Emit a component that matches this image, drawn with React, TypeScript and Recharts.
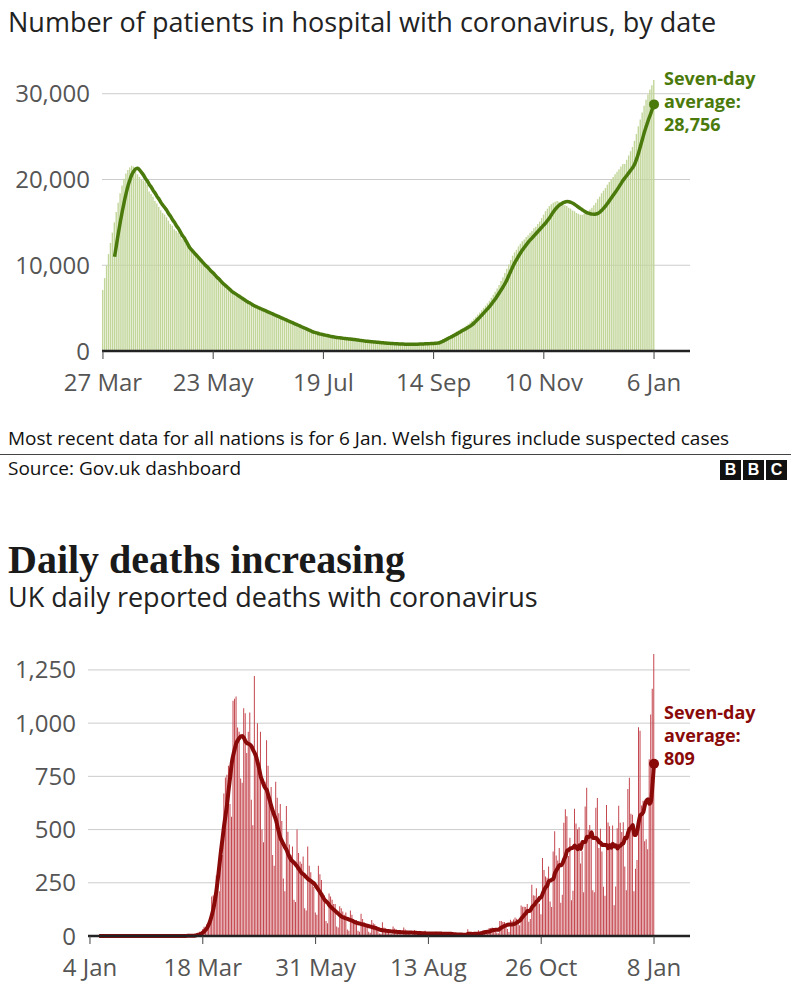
import React from 'react';
import {
  Bar,
  CartesianGrid,
  ComposedChart,
  Line,
  XAxis,
  YAxis,
} from 'recharts';

// Hospital patients, thousands, one value per day from 27 Mar 2020 to 6 Jan 2021
const hospitalBarsK = [
  7.1, 8.5, 10.0, 11.3, 12.6, 13.8, 15.0, 16.2, 17.3, 18.4,
  19.3, 20.1, 20.7, 21.1, 21.4, 21.6, 21.5, 21.1, 20.6, 20.3,
  20.0, 19.9, 19.7, 19.4, 18.6, 18.3, 18.0, 17.5, 17.2, 16.8,
  16.4, 16.1, 15.9, 15.6, 15.2, 14.8, 14.6, 14.2, 14.0, 13.8,
  13.5, 13.1, 12.9, 12.5, 12.3, 11.9, 11.6, 11.4, 11.2, 10.9,
  10.7, 10.4, 10.2, 9.9, 9.7, 9.4, 9.2, 8.9, 8.6, 8.4,
  8.2, 7.9, 7.7, 7.5, 7.3, 7.1, 6.9, 6.8, 6.6, 6.4,
  6.3, 6.1, 6.0, 5.8, 5.7, 5.5, 5.4, 5.3, 5.2, 5.1,
  5.0, 4.9, 4.8, 4.7, 4.6, 4.5, 4.4, 4.3, 4.2, 4.1,
  4.0, 3.9, 3.8, 3.7, 3.6, 3.5, 3.4, 3.3, 3.2, 3.1,
  3.0, 2.9, 2.8, 2.7, 2.6, 2.5, 2.4, 2.3, 2.2, 2.1,
  2.05, 2.0, 1.95, 1.9, 1.85, 1.8, 1.75, 1.7, 1.66, 1.62,
  1.58, 1.55, 1.52, 1.49, 1.46, 1.43, 1.4, 1.38, 1.35, 1.32,
  1.29, 1.26, 1.23, 1.2, 1.17, 1.14, 1.12, 1.09, 1.07, 1.05,
  1.03, 1.01, 0.99, 0.96, 0.94, 0.92, 0.9, 0.89, 0.87, 0.86,
  0.85, 0.83, 0.82, 0.81, 0.8, 0.79, 0.79, 0.78, 0.78, 0.79,
  0.79, 0.8, 0.8, 0.81, 0.82, 0.83, 0.84, 0.85, 0.86, 0.87,
  0.89, 0.92, 0.97, 1.05, 1.15, 1.27, 1.4, 1.52, 1.64, 1.76,
  1.88, 2.0, 2.13, 2.26, 2.39, 2.52, 2.65, 2.79, 2.94, 3.12,
  3.32, 3.54, 3.77, 4.0, 4.25, 4.5, 4.76, 5.02, 5.28, 5.56,
  5.86, 6.2, 6.55, 6.9, 7.3, 7.7, 8.15, 8.6, 9.1, 9.6,
  10.1, 10.6, 11.1, 11.5, 11.8, 12.2, 12.5, 12.8, 13.0, 13.3,
  13.5, 13.8, 14.0, 14.3, 14.5, 14.8, 15.1, 15.5, 15.9, 16.3,
  16.6, 16.9, 17.1, 17.3, 17.4, 17.5, 17.4, 17.3, 17.2, 17.0,
  16.9, 16.7, 16.6, 16.4, 16.3, 16.1, 16.0, 15.9, 15.9, 16.0,
  16.1, 16.3, 16.5, 16.7, 17.0, 17.3, 17.7, 18.0, 18.4, 18.7,
  19.0, 19.4, 19.7, 20.0, 20.3, 20.6, 20.9, 21.2, 21.5, 21.8,
  21.8, 22.3, 22.8, 23.3, 23.8, 24.5, 25.3, 26.2, 27.0, 27.8,
  28.6, 29.3, 29.9, 30.5, 31.0, 31.6,
];

// Seven-day average, thousands, same days
const hospitalAvgK = [
  null, null, null, null, null, null, 11.0, 12.4, 13.8, 15.1,
  16.3, 17.4, 18.4, 19.3, 20.0, 20.6, 21.0, 21.25, 21.3, 21.1,
  20.8, 20.5, 20.1, 19.8, 19.4, 19.1, 18.7, 18.4, 18.0, 17.7,
  17.3, 17.0, 16.7, 16.4, 16.0, 15.7, 15.3, 15.0, 14.6, 14.3,
  13.9, 13.5, 13.2, 12.8, 12.4, 12.0, 11.75, 11.5, 11.25, 11.0,
  10.75, 10.5, 10.25, 10.0, 9.8, 9.55, 9.3, 9.1, 8.85, 8.6,
  8.4, 8.15, 7.9, 7.7, 7.5, 7.3, 7.1, 6.9, 6.75, 6.6,
  6.45, 6.3, 6.15, 6.0, 5.85, 5.7, 5.6, 5.45, 5.3, 5.2,
  5.1, 5.0, 4.9, 4.8, 4.7, 4.6, 4.5, 4.4, 4.3, 4.2,
  4.1, 4.0, 3.9, 3.8, 3.7, 3.6, 3.5, 3.4, 3.3, 3.2,
  3.1, 3.0, 2.9, 2.8, 2.7, 2.6, 2.5, 2.4, 2.3, 2.2,
  2.15, 2.07, 2.0, 1.95, 1.9, 1.85, 1.8, 1.75, 1.7, 1.66,
  1.62, 1.58, 1.55, 1.52, 1.49, 1.46, 1.43, 1.41, 1.39, 1.36,
  1.33, 1.3, 1.27, 1.24, 1.21, 1.18, 1.15, 1.13, 1.1, 1.08,
  1.06, 1.04, 1.02, 1.0, 0.97, 0.95, 0.93, 0.91, 0.9, 0.88,
  0.87, 0.85, 0.84, 0.83, 0.82, 0.81, 0.8, 0.8, 0.79, 0.79,
  0.79, 0.79, 0.8, 0.8, 0.81, 0.82, 0.83, 0.84, 0.85, 0.86,
  0.87, 0.88, 0.9, 0.92, 0.96, 1.05, 1.15, 1.28, 1.4, 1.52,
  1.63, 1.75, 1.87, 2.0, 2.12, 2.25, 2.38, 2.5, 2.63, 2.77,
  2.9, 3.08, 3.28, 3.5, 3.72, 3.95, 4.2, 4.45, 4.7, 4.95,
  5.2, 5.5, 5.8, 6.1, 6.45, 6.8, 7.15, 7.5, 7.9, 8.35,
  8.85, 9.35, 9.85, 10.3, 10.7, 11.1, 11.45, 11.8, 12.1, 12.4,
  12.7, 12.95, 13.2, 13.45, 13.7, 13.95, 14.2, 14.45, 14.7, 14.95,
  15.25, 15.55, 15.9, 16.25, 16.55, 16.8, 17.0, 17.15, 17.3, 17.38,
  17.42, 17.4, 17.33, 17.22, 17.08, 16.92, 16.76, 16.6, 16.45, 16.3,
  16.17, 16.07, 16.0, 15.96, 15.95, 15.97, 16.05, 16.2, 16.4, 16.65,
  16.93, 17.23, 17.55, 17.88, 18.2, 18.52, 18.85, 19.2, 19.55, 19.9,
  20.2, 20.5, 20.8, 21.1, 21.4, 21.8, 22.4, 23.1, 23.9, 24.7,
  25.5, 26.2, 26.9, 27.5, 28.15, 28.756,
];

const hospitalTickDays = [0, 57, 114, 171, 228, 285];
const hospitalTickLabels = ['27 Mar', '23 May', '19 Jul', '14 Sep', '10 Nov', '6 Jan'];
const hospitalYTicks = [0, 10000, 20000, 30000];

// UK daily reported deaths, one row per week (Sat..Fri), 4 Jan 2020 to 8 Jan 2021
const dailyDeaths = [
  0, 0, 0, 0, 0, 0, 0,
  0, 0, 0, 0, 0, 0, 0,
  0, 0, 0, 0, 0, 0, 0,
  0, 0, 0, 0, 0, 0, 0,
  0, 0, 0, 0, 0, 0, 0,
  0, 0, 0, 0, 0, 0, 0,
  0, 0, 0, 0, 0, 0, 0,
  0, 0, 0, 0, 0, 0, 0,
  0, 0, 0, 0, 0, 1, 1,
  1, 1, 0, 2, 1, 2, 3,
  10, 14, 20, 16, 32, 43, 33,
  56, 48, 87, 186, 190, 183, 284,
  290, 210, 373, 380, 670, 745, 757,
  800, 620, 560, 1105, 1115, 1125, 980,
  960, 740, 720, 1070, 1046, 860, 960,
  1050, 640, 520, 1222, 860, 1000, 800,
  960, 500, 440, 725, 920, 800, 654,
  700, 380, 330, 725, 650, 577, 620,
  540, 270, 210, 611, 490, 430, 380,
  420, 170, 160, 500, 390, 350, 340,
  373, 130, 120, 420, 330, 300, 250,
  230, 110, 100, 330, 290, 263, 200,
  190, 70, 60, 200, 185, 170, 150,
  150, 45, 40, 140, 130, 115, 100,
  110, 30, 25, 120, 100, 80, 70,
  75, 25, 20, 105, 80, 65, 60,
  55, 20, 15, 75, 60, 55, 45,
  40, 12, 10, 65, 40, 35, 30,
  30, 10, 8, 45, 35, 30, 25,
  22, 8, 7, 40, 30, 25, 22,
  20, 5, 5, 28, 20, 18, 15,
  12, 5, 4, 25, 18, 15, 14,
  10, 3, 4, 20, 16, 12, 10,
  9, 3, 2, 16, 12, 10, 9,
  8, 1, 1, 3, 12, 10, 12,
  2, 3, 2, 32, 8, 14, 6,
  9, 5, 9, 27, 20, 21, 27,
  27, 18, 11, 37, 37, 40, 34,
  34, 17, 13, 71, 71, 66, 66,
  49, 33, 19, 76, 70, 77, 87,
  81, 65, 50, 143, 137, 138, 136,
  150, 67, 80, 241, 191, 189, 224,
  174, 151, 102, 367, 310, 280, 274,
  326, 162, 136, 397, 492, 378, 355,
  413, 156, 194, 532, 595, 563, 376,
  462, 168, 213, 598, 529, 501, 511,
  341, 398, 206, 608, 696, 498, 521,
  479, 215, 205, 603, 648, 414, 504,
  397, 231, 189, 616, 533, 516, 424,
  519, 144, 232, 506, 612, 532, 489,
  534, 326, 215, 691, 744, 574, 570,
  210, 316, 357, 981, 964, 613, 635,
  445, 454, 407, 830, 1041, 1162, 1325,
];

const deathsAvg = [
  null, null, null, null, null, null, 0,
  0, 0, 0, 0, 0, 0, 0,
  0, 0, 0, 0, 0, 0, 0,
  0, 0, 0, 0, 0, 0, 0,
  0, 0, 0, 0, 0, 0, 0,
  0, 0, 0, 0, 0, 0, 0,
  0, 0, 0, 0, 0, 0, 0,
  0, 0, 0, 0, 0, 0, 0,
  0, 0, 0, 0, 0, 0, 0,
  0, 1, 1, 1, 1, 1, 2,
  4, 6, 8, 11, 16, 22, 30,
  40, 55, 75, 100, 130, 170, 216,
  275, 340, 404, 460, 520, 570, 624,
  690, 750, 812, 850, 880, 906, 920,
  930, 938, 940, 930, 915, 906, 903,
  899, 890, 874, 860, 843, 815, 785,
  749, 730, 710, 695, 686, 660, 635,
  608, 585, 565, 545, 515, 485, 459,
  445, 430, 416, 404, 385, 370, 357,
  350, 343, 335, 326, 315, 305, 294,
  290, 283, 275, 268, 263, 258, 252,
  247, 237, 226, 216, 205, 193, 181,
  169, 162, 155, 145, 137, 130, 123,
  117, 110, 104, 97, 91, 88, 85,
  83, 80, 77, 75, 72, 68, 64,
  62, 60, 58, 56, 54, 52, 50,
  48, 46, 44, 42, 40, 38, 36,
  33, 30, 28, 27, 26, 25, 24,
  23, 22, 21, 21, 20, 20, 19,
  19, 18, 18, 17, 17, 17, 16,
  16, 16, 15, 15, 15, 14, 14,
  14, 13, 13, 13, 12, 12, 12,
  12, 12, 12, 12, 12, 12, 12,
  11, 11, 11, 11, 10, 10, 10,
  9, 8, 8, 7, 7, 7, 7,
  6, 6, 6, 10, 10, 10, 9,
  10, 10, 11, 10, 12, 13, 16,
  18, 19, 20, 21, 24, 27, 28,
  29, 29, 29, 35, 40, 44, 48,
  50, 53, 54, 54, 54, 56, 59,
  63, 68, 72, 82, 91, 100, 107,
  117, 117, 122, 136, 143, 151, 163,
  167, 179, 182, 200, 217, 230, 237,
  259, 260, 265, 269, 295, 309, 321,
  333, 332, 341, 360, 375, 401, 404,
  411, 413, 416, 425, 416, 407, 426,
  409, 442, 441, 442, 466, 465, 467,
  487, 460, 460, 460, 453, 441, 438,
  427, 429, 427, 428, 412, 427, 415,
  433, 420, 426, 411, 422, 424, 433,
  436, 462, 459, 486, 504, 510, 522,
  476, 474, 495, 536, 567, 573, 582,
  616, 636, 643, 621, 632, 711, 809,
];

const deathTickDays = [0, 74, 148, 222, 296, 370];
const deathTickLabels = ['4 Jan', '18 Mar', '31 May', '13 Aug', '26 Oct', '8 Jan'];
const deathYTicks = [0, 250, 500, 750, 1000, 1250];

const SANS = '"Open Sans", "Noto Sans", sans-serif';
const GREEN = '#4b7a0c';
const RED = '#8a0a0a';

const hospitalData = hospitalBarsK.map((v, i) => ({
  day: i,
  patients: Math.round(v * 1000),
  average: hospitalAvgK[i] == null ? null : Math.round((hospitalAvgK[i] as number) * 1000),
}));

const deathsData = dailyDeaths.map((v, i) => ({
  day: i,
  deaths: v,
  average: deathsAvg[i],
}));

const fmt = (v: number) => v.toLocaleString('en-GB');

const tickStyle = { fill: '#555', fontSize: 24, fontFamily: SANS };

function endDot(lastIndex: number, color: string) {
  return (props: any) => {
    if (props.index !== lastIndex || props.cy == null) return <g key={`d${props.index}`} />;
    return <circle key={`d${props.index}`} cx={props.cx} cy={props.cy} r={5} fill={color} />;
  };
}

function endLabel(lastIndex: number, color: string, dy: number) {
  return (props: any) => {
    if (props.index !== lastIndex || props.y == null) return <g key={`l${props.index}`} />;
    const x = props.x + 10;
    const y = props.y + dy;
    const lines = ['Seven-day', 'average:', fmt(props.value)];
    return (
      <g key={`l${props.index}`}>
        {lines.map((t, i) => (
          <text
            key={t}
            x={x}
            y={y + i * 23}
            fill={color}
            fontFamily={SANS}
            fontWeight={700}
            fontSize={18}
          >
            {t}
          </text>
        ))}
      </g>
    );
  };
}

function HospitalChart() {
  const last = hospitalData.length - 1;
  return (
    <ComposedChart
      width={791}
      height={400}
      data={hospitalData}
      margin={{ top: 68, right: 101, bottom: 9, left: 0 }}
    >
      <CartesianGrid
        stroke="#cccccc"
        vertical={false}
        horizontalValues={hospitalYTicks}
      />
      <XAxis
        type="number"
        dataKey="day"
        domain={[-0.5, 303.6]}
        allowDataOverflow
        ticks={hospitalTickDays}
        interval={0}
        tickFormatter={(v) => hospitalTickLabels[hospitalTickDays.indexOf(v)]}
        height={40}
        axisLine={{ stroke: '#222', strokeWidth: 2.5 }}
        tickLine={{ stroke: '#444' }}
        tickSize={8}
        tickMargin={15}
        tick={tickStyle}
      />
      <YAxis
        type="number"
        domain={[0, 33000]}
        ticks={hospitalYTicks}
        width={102}
        axisLine={false}
        tickLine={false}
        tickSize={0}
        tickMargin={12}
        tickFormatter={fmt}
        tick={tickStyle}
      />
      <Bar dataKey="patients" fill="#c2d69a" barSize={1.4} isAnimationActive={false} />
      <Line
        type="monotone"
        dataKey="average"
        stroke={GREEN}
        strokeWidth={3.5}
        dot={endDot(last, GREEN)}
        activeDot={false}
        label={endLabel(last, GREEN, -19)}
        isAnimationActive={false}
      />
    </ComposedChart>
  );
}

function DeathsChart() {
  const last = deathsData.length - 1;
  return (
    <ComposedChart
      width={791}
      height={365}
      data={deathsData}
      margin={{ top: 18, right: 101, bottom: 9, left: 0 }}
    >
      <CartesianGrid
        stroke="#cccccc"
        vertical={false}
        horizontalValues={deathYTicks}
      />
      <XAxis
        type="number"
        dataKey="day"
        domain={[-1.3, 393.6]}
        allowDataOverflow
        ticks={deathTickDays}
        interval={0}
        tickFormatter={(v) => deathTickLabels[deathTickDays.indexOf(v)]}
        height={40}
        axisLine={{ stroke: '#222', strokeWidth: 2.5 }}
        tickLine={{ stroke: '#444' }}
        tickSize={8}
        tickMargin={15}
        tick={tickStyle}
      />
      <YAxis
        type="number"
        domain={[0, 1400]}
        ticks={deathYTicks}
        width={88}
        axisLine={false}
        tickLine={false}
        tickSize={0}
        tickMargin={12}
        tickFormatter={fmt}
        tick={tickStyle}
      />
      <Bar dataKey="deaths" fill="#c4464e" barSize={1} isAnimationActive={false} />
      <Line
        type="monotone"
        dataKey="average"
        stroke={RED}
        strokeWidth={4}
        dot={endDot(last, RED)}
        activeDot={false}
        label={endLabel(last, RED, -45)}
        isAnimationActive={false}
      />
    </ComposedChart>
  );
}

export default function App() {
  const abs = (top: number, extra: React.CSSProperties = {}): React.CSSProperties => ({
    position: 'absolute',
    left: 8,
    top,
    margin: 0,
    whiteSpace: 'nowrap',
    fontFamily: SANS,
    color: '#222',
    ...extra,
  });
  return (
    <div
      style={{
        position: 'absolute',
        left: 0,
        top: 0,
        width: 791,
        height: 985,
        background: '#fff',
        overflow: 'hidden',
      }}
    >
      <div style={abs(6, { fontSize: 27, lineHeight: '32px' })}>
        Number of patients in hospital with coronavirus, by date
      </div>
      <div style={{ position: 'absolute', left: 0, top: 0 }}>
        <HospitalChart />
      </div>
      <div style={abs(426, { fontSize: 19, lineHeight: '24px', color: '#111' })}>
        Most recent data for all nations is for 6 Jan. Welsh figures include suspected cases
      </div>
      <div style={{ position: 'absolute', left: 0, top: 454, width: 791, height: 1, background: '#444' }} />
      <div style={abs(456, { fontSize: 19, lineHeight: '24px', color: '#111' })}>
        Source: Gov.uk dashboard
      </div>
      <div style={{ position: 'absolute', left: 720, top: 460, display: 'flex', gap: 2 }}>
        {['B', 'B', 'C'].map((c, i) => (
          <div
            key={i}
            style={{
              width: 21,
              height: 20,
              background: '#111',
              color: '#fff',
              fontFamily: '"Liberation Sans", sans-serif',
              fontWeight: 700,
              fontSize: 16,
              lineHeight: '20px',
              textAlign: 'center',
            }}
          >
            {c}
          </div>
        ))}
      </div>
      <div
        style={abs(536, {
          fontSize: 40,
          lineHeight: '48px',
          fontWeight: 700,
          fontFamily: '"Liberation Serif", serif',
          color: '#1a1a1a',
        })}
      >
        Daily deaths increasing
      </div>
      <div style={abs(581, { fontSize: 27, lineHeight: '32px' })}>
        UK daily reported deaths with coronavirus
      </div>
      <div style={{ position: 'absolute', left: 0, top: 620 }}>
        <DeathsChart />
      </div>
    </div>
  );
}
